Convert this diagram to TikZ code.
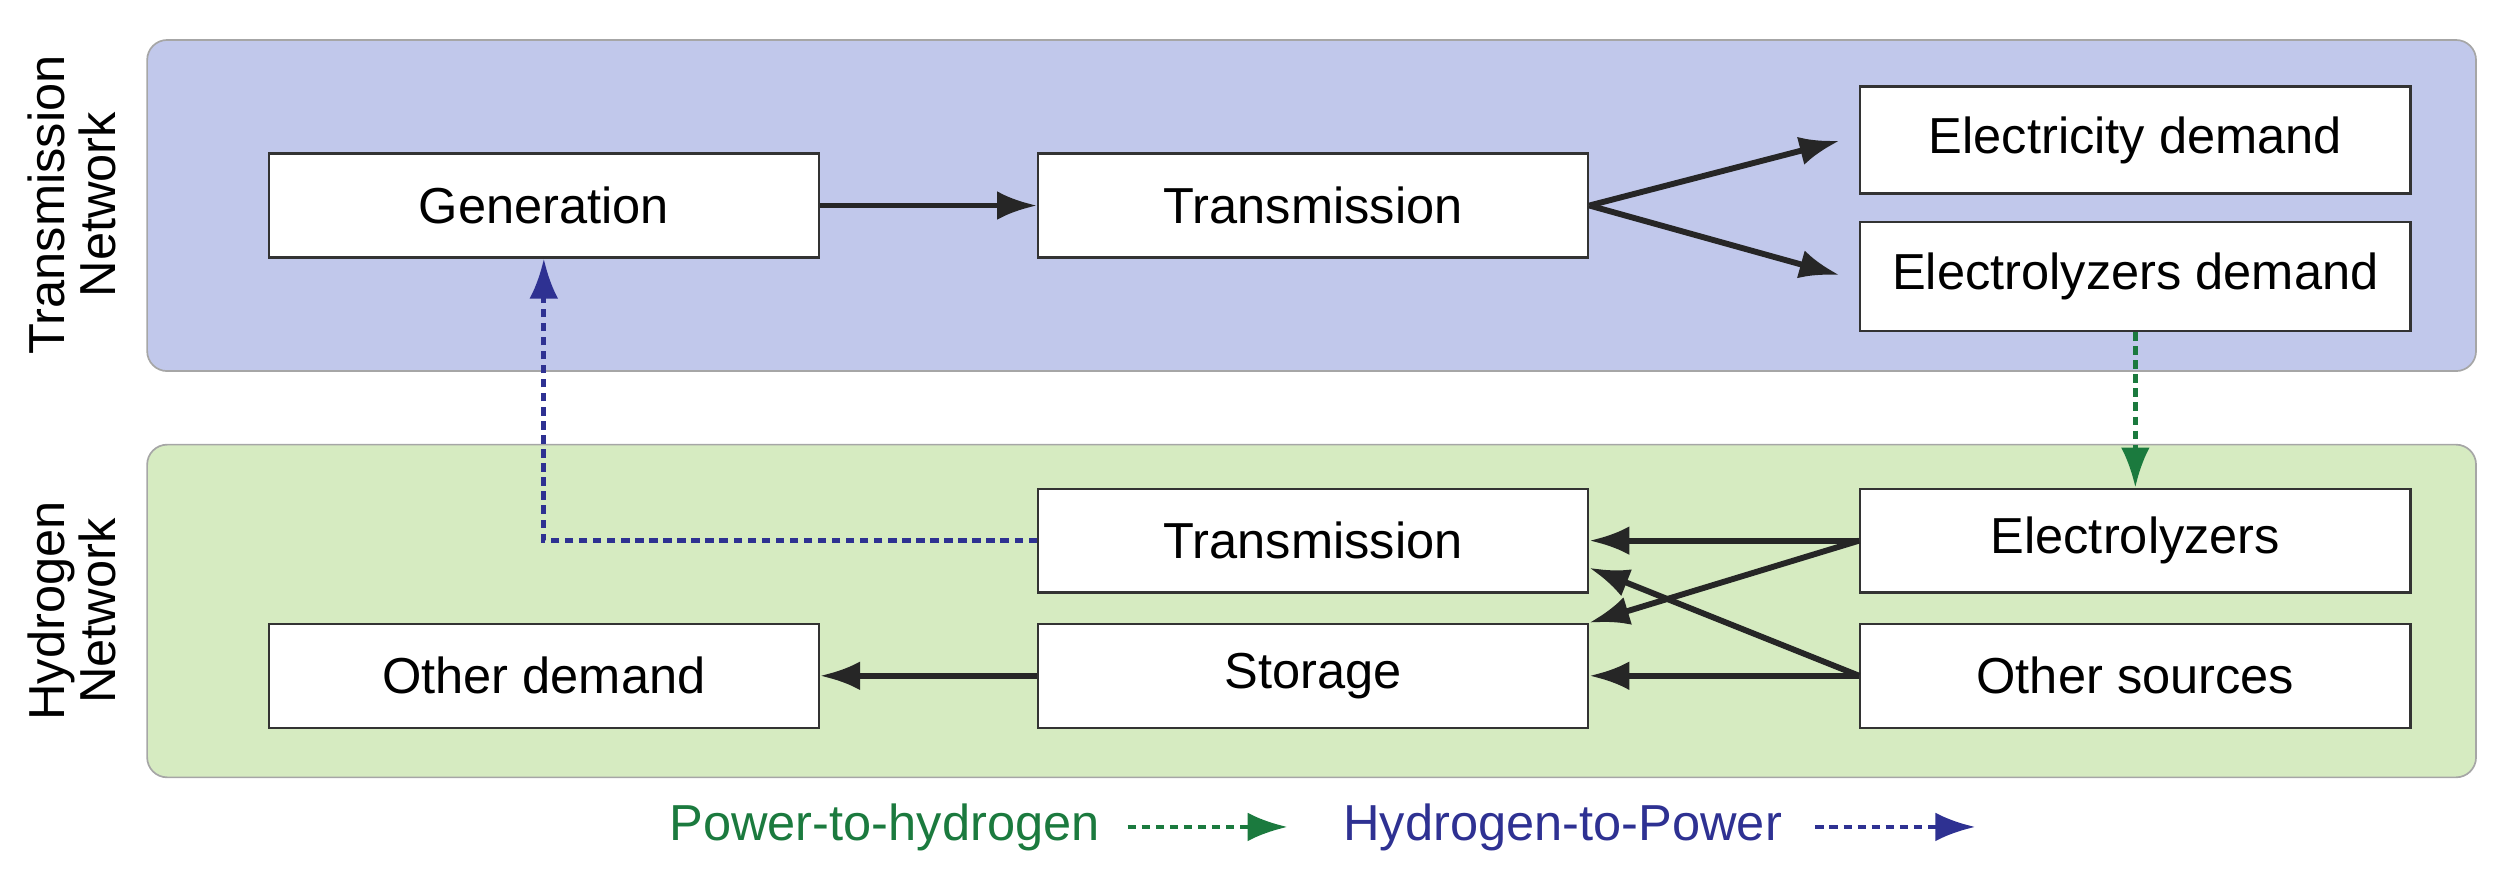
\documentclass[tikz,border=0pt]{standalone}
\usepackage{fontspec}
\setmainfont{Liberation Sans}
\usetikzlibrary{arrows.meta}
\definecolor{bluep}{HTML}{C1C8EB}
\definecolor{greenp}{HTML}{D6EBC1}
\definecolor{gtxt}{HTML}{1B7A3E}
\definecolor{btxt}{HTML}{2E3192}
\begin{document}
\begin{tikzpicture}[x=0.02cm,y=-0.02cm,
  box/.style={draw=black!80,fill=white,line width=0.8pt,minimum width=6.88cm,minimum height=1.3cm,inner sep=0pt,font=\fontsize{18}{21}\selectfont},
  panel/.style={draw=black!35,rounded corners=0.25cm,line width=0.6pt},
  arr/.style={-{Latex[length=0.5cm,width=0.36cm]},line width=2.1pt,black!85},
  garr/.style={-{Latex[length=0.5cm,width=0.36cm]},line width=1.7pt,gtxt,dash pattern=on 3pt off 2pt},
  barr/.style={-{Latex[length=0.5cm,width=0.36cm]},line width=1.7pt,btxt,dash pattern=on 3pt off 2pt},
  side/.style={rotate=90,align=center,font=\fontsize{18}{18}\selectfont}]
\useasboundingbox (0,0) rectangle (1568,550);
\draw[panel,fill=bluep] (92,25) rectangle (1548,232);
\draw[panel,fill=greenp] (92,278) rectangle (1548,486);
\node[side] (lt) at (45,128) {Transmission\\Network};
\node[side] (lh) at (45,382) {Hydrogen\\Network};
\node[box] (gen) at (340,128.5) {Generation};
\node[box] (tr) at (821,128.5) {Transmission};
\node[box,minimum height=1.34cm] (ed) at (1335,87.5) {Electricity demand};
\node[box,minimum height=1.36cm] (eld) at (1335,173) {Electrolyzers demand};
\node[box] (htr) at (821,338) {Transmission};
\node[box] (el) at (1335,338) {Electrolyzers};
\node[box] (od) at (340,422.5) {Other demand};
\node[box] (st) at (821,422.5) {Storage};
\node[box] (os) at (1335,422.5) {Other sources};
\draw[arr] (gen.east) -- (tr.west);
\coordinate (tre) at (tr.east);
\draw[arr] (tre) -- (1150,88);
\draw[arr] (tre) -- (1150,172);
\draw[garr] (eld.south) -- (el.north);
\draw[barr] (htr.west) -| (gen.south);
\draw[arr] (el.west) -- (htr.east);
\draw[arr] (el.west) -- (st.north east);
\draw[arr] (os.west) -- ([yshift=-0.34cm]htr.east);
\draw[arr] (os.west) -- (st.east);
\draw[arr] (st.west) -- (od.east);
\node[gtxt,font=\fontsize{18}{21}\selectfont] (lp) at (553,517) {Power-to-hydrogen};
\coordinate (lp1) at (705,517); \coordinate (lp2) at (805,517);
\draw[garr] (lp1) -- (lp2);
\node[btxt,font=\fontsize{18}{21}\selectfont] (lb) at (977,517) {Hydrogen-to-Power};
\coordinate (lb1) at (1135,517); \coordinate (lb2) at (1235,517);
\draw[barr] (lb1) -- (lb2);
\end{tikzpicture}
\end{document}
